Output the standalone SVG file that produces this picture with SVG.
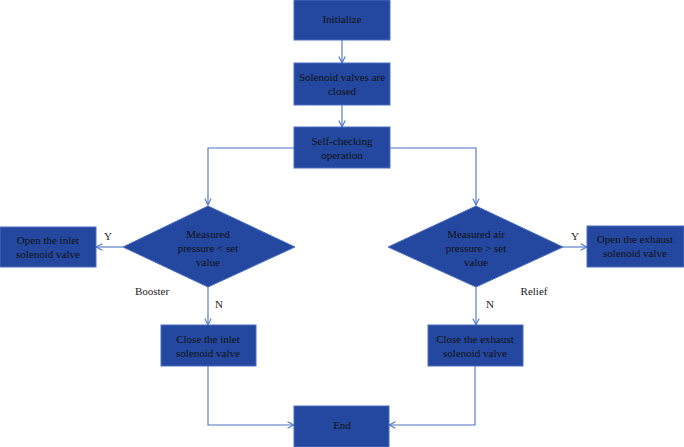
<svg xmlns="http://www.w3.org/2000/svg" width="684" height="447" viewBox="0 0 684 447">
<defs>
<marker id="arr" viewBox="0 0 10 10" refX="9" refY="5" markerWidth="8" markerHeight="8" orient="auto" markerUnits="userSpaceOnUse">
<path d="M1,1 L9,5 L1,9" fill="none" stroke="#4a72c4" stroke-width="1.3"/>
</marker>
<style>
.n{fill:#2448a0;stroke:#4a6fc0;stroke-width:1}
.t{font-family:"Liberation Serif",serif;font-size:11px;fill:#111;text-anchor:middle}
.l{font-family:"Liberation Serif",serif;font-size:11px;fill:#222;text-anchor:middle}
.c{fill:none;stroke:#4a72c4;stroke-width:1.1}
</style>
</defs>
<rect width="684" height="447" fill="#fff"/>
<g id="connectors">
<path class="c" d="M342,40 V63" marker-end="url(#arr)"/>
<path class="c" d="M342,105 V127" marker-end="url(#arr)"/>
<path class="c" d="M294,148 H208 V205" marker-end="url(#arr)"/>
<path class="c" d="M390,148 H476 V205" marker-end="url(#arr)"/>
<path class="c" d="M123,247 H96" marker-end="url(#arr)"/>
<path class="c" d="M563,247 H587" marker-end="url(#arr)"/>
<path class="c" d="M208,287 V325" marker-end="url(#arr)"/>
<path class="c" d="M476,287 V325" marker-end="url(#arr)"/>
<path class="c" d="M208,366 V425 H294" marker-end="url(#arr)"/>
<path class="c" d="M475,366 V425 H389" marker-end="url(#arr)"/>
<text class="l" x="108" y="240">Y</text>
<text class="l" x="575" y="240">Y</text>
<text class="l" x="219" y="308">N</text>
<text class="l" x="490" y="308">N</text>
<text class="l" x="152" y="295">Booster</text>
<text class="l" x="534" y="295">Relief</text>
</g>
<g id="initialize"><rect class="n" x="294" y="0" width="96" height="40"/><text class="t" x="342" y="23">Initialize</text></g>
<g id="closed"><rect class="n" x="294" y="63" width="96" height="42"/><text class="t" x="342" y="81">Solenoid valves are</text><text class="t" x="342" y="95">closed</text></g>
<g id="selfcheck"><rect class="n" x="294" y="127" width="96" height="41"/><text class="t" x="342" y="145">Self-checking</text><text class="t" x="342" y="159">operation</text></g>
<g id="d1"><polygon class="n" points="208,206 295,247 208,287 123,247"/><text class="t" x="208" y="238">Measured</text><text class="t" x="208" y="252">pressure &lt; set</text><text class="t" x="208" y="266">value</text></g>
<g id="d2"><polygon class="n" points="476,206 563,247 476,287 388,247"/><text class="t" x="476" y="238">Measured air</text><text class="t" x="476" y="252">pressure &gt; set</text><text class="t" x="476" y="266">value</text></g>
<g id="openinlet"><rect class="n" x="0" y="227" width="96" height="40"/><text class="t" x="48" y="244">Open the inlet</text><text class="t" x="48" y="258">solenoid valve</text></g>
<g id="openexhaust"><rect class="n" x="587" y="226" width="97" height="41"/><text class="t" x="635" y="243">Open the exhaust</text><text class="t" x="635" y="257">solenoid valve</text></g>
<g id="closeinlet"><rect class="n" x="161" y="325" width="95" height="41"/><text class="t" x="208" y="343">Close the inlet</text><text class="t" x="208" y="357">solenoid valve</text></g>
<g id="closeexhaust"><rect class="n" x="428" y="325" width="95" height="41"/><text class="t" x="475" y="343">Close the exhaust</text><text class="t" x="475" y="357">solenoid valve</text></g>
<g id="end"><rect class="n" x="294" y="406" width="95" height="41"/><text class="t" x="342" y="429">End</text></g>
</svg>
